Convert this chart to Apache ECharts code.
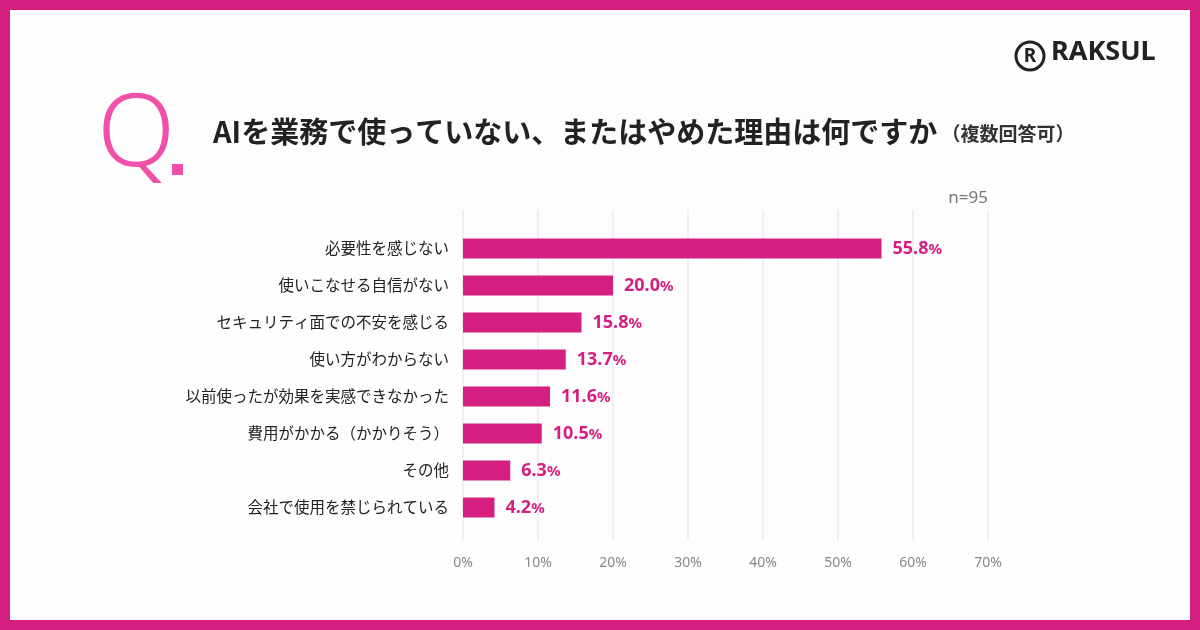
<!DOCTYPE html>
<html>
<head>
<meta charset="utf-8">
<script src="https://cdn.jsdelivr.net/npm/echarts@6/dist/echarts.min.js"></script>
<style>
  html, body { margin: 0; padding: 0; background: #d41f81; }
  #main { width: 1200px; height: 630px; }
</style>
</head>
<body>
<div id="main"></div>
<script>
// 回答項目
var categories = [
    '必要性を感じない',
    '使いこなせる自信がない',
    'セキュリティ面での不安を感じる',
    '使い方がわからない',
    '以前使ったが効果を実感できなかった',
    '費用がかかる（かかりそう）',
    'その他',
    '会社で使用を禁じられている'
];
// 割合(%)
var values = [55.8, 20.0, 15.8, 13.7, 11.6, 10.5, 6.3, 4.2];
var xTicks = [0, 10, 20, 30, 40, 50, 60, 70];

var pink = '#d41f81';
var font = '"Noto Sans CJK JP", "Noto Sans", sans-serif';

var myChart = echarts.init(document.getElementById('main'));
myChart.setOption({
    backgroundColor: '#d41f81',
    textStyle: {fontFamily: font},
    graphic: [
        // 白い背景(枠の内側)
        {type: 'rect', shape: {x: 10, y: 10, width: 1180, height: 610}, style: {fill: '#fdfdfd'}, z: -10},
        // Q.
        {type: 'text', left: 97, top: 86, style: {text: 'Q', font: '300 102px "Noto Sans", sans-serif', fill: '#f050a8'}},
        {type: 'rect', shape: {x: 172, y: 164, width: 11, height: 11}, style: {fill: '#f050a8'}},
        // タイトル
        {type: 'text', left: 213, top: 117, style: {
            text: '{a|AIを業務で使っていない、またはやめた理由は何ですか}{b| （複数回答可）}',
            rich: {
                a: {fontSize: 29, fontWeight: 'bold', fill: '#222', fontFamily: font},
                b: {fontSize: 19, fontWeight: 'bold', fill: '#333', fontFamily: font, padding: [4, 0, 0, 0]}
            }
        }},
        // n=95
        {type: 'text', right: 212, top: 190, style: {text: 'n=95', font: '17px "Noto Sans", sans-serif', fill: '#777'}},
        // ロゴ
        {type: 'circle', shape: {cx: 1030, cy: 56, r: 14}, style: {fill: 'none', stroke: '#222', lineWidth: 3}},
        {type: 'text', x: 1030, y: 57, style: {text: 'R', font: 'bold 19px "Noto Sans", sans-serif', fill: '#222', align: 'center', verticalAlign: 'middle'}},
        {type: 'text', left: 1051, top: 39, style: {text: 'RAKSUL', font: 'bold 27px "Noto Sans", sans-serif', fill: '#222'}}
    ],
    grid: [
        {left: 463, right: 212, top: 210, bottom: 90},
        {left: 463, right: 212, top: 230, height: 296}
    ],
    xAxis: [
        {
            gridIndex: 0, type: 'value', min: 0, max: 70, interval: 10,
            axisLine: {show: false}, axisTick: {show: false},
            splitLine: {lineStyle: {color: '#ebe7f2', width: 1.5}},
            axisLabel: {
                margin: 16, color: '#888', fontSize: 14, fontFamily: '"Noto Sans", sans-serif',
                formatter: function (v) { return xTicks.indexOf(v) >= 0 ? v + '%' : ''; }
            }
        },
        {
            gridIndex: 1, type: 'value', min: 0, max: 70, interval: 10,
            axisLine: {show: false}, axisTick: {show: false},
            splitLine: {show: false}, axisLabel: {show: false}
        }
    ],
    yAxis: [
        {gridIndex: 0, type: 'value', show: false},
        {
            gridIndex: 1, type: 'category', data: categories, inverse: true,
            axisLine: {show: false}, axisTick: {show: false},
            axisLabel: {margin: 14, color: '#222', fontSize: 15.5, fontFamily: font}
        }
    ],
    series: [
        {
            type: 'bar',
            xAxisIndex: 1,
            yAxisIndex: 1,
            data: values,
            barWidth: 20,
            itemStyle: {color: pink},
            label: {
                show: true,
                position: 'right',
                distance: 11,
                formatter: function (p) { return '{v|' + p.value.toFixed(1) + '}{p|%}'; },
                rich: {
                    v: {fontSize: 18, fontWeight: 'bold', color: pink, fontFamily: '"Noto Sans", sans-serif'},
                    p: {fontSize: 15, fontWeight: 'bold', color: pink, fontFamily: '"Noto Sans", sans-serif', padding: [2, 0, 0, 0]}
                }
            }
        }
    ]
});
</script>
</body>
</html>
